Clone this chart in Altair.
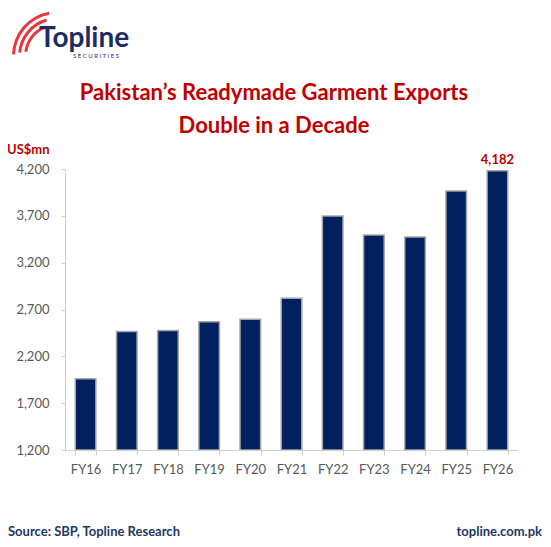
import altair as alt
import pandas as pd

categories = ["FY16", "FY17", "FY18", "FY19", "FY20", "FY21", "FY22", "FY23", "FY24", "FY25", "FY26"]
exports = [1961, 2464, 2475, 2568, 2596, 2821, 3698, 3496, 3475, 3964, 4182]
y_ticks = [1200, 1700, 2200, 2700, 3200, 3700, 4200]

title_lines = ["Pakistan\u2019s Readymade Garment Exports", "Double in a Decade"]
unit_label = "US$mn"
source_text = "Source: SBP,  Topline Research"
site_text = "topline.com.pk"
logo_text = "Topline"
logo_sub = "S E C U R I T I E S"

df = pd.DataFrame({"cat": categories, "value": exports})
one = pd.DataFrame({"k": [0]})

FONT = "Lato"
RED = "#c00000"
NAVY = "#002060"
LOGO_NAVY = "#1f2b63"
FOOT = "#1f3864"

W, H = 453, 281

x = alt.X("cat:N", sort=categories, title=None,
          scale=alt.Scale(paddingInner=0.5, paddingOuter=0.25),
          axis=alt.Axis(labelAngle=0, labelFont=FONT, labelFontSize=13, labelColor="#595959",
                        labelPadding=8, domainColor="#d0d0d0", tickColor="#d0d0d0",
                        tickBand="extent", tickSize=5, grid=False, labelOverlap=False,
                        zindex=2))
y = alt.Y("value:Q", title=None,
          scale=alt.Scale(domain=[1200, 4200], zero=False, nice=False),
          axis=alt.Axis(values=y_ticks, format=",.0f", labelFont=FONT, labelFontSize=13,
                        labelColor="#595959", labelPadding=12, domainColor="#d0d0d0",
                        tickColor="#d0d0d0", tickSize=4, grid=False, zindex=2))

bars = alt.Chart(df).mark_bar(color=NAVY, stroke="#a6a6a6", strokeWidth=1.5, clip=True).encode(
    x=x, y=y, y2=alt.Y2(datum=1200))

label = alt.Chart(df).transform_filter(alt.datum.cat == "FY26").mark_text(
    font=FONT, fontSize=13, fontWeight="bold", color=RED, dy=-4, baseline="bottom"
).encode(x=x, y=y, text=alt.Text("value:Q", format=",.0f"))


def txt(s, xv, yv, size, color, weight="bold", align="left"):
    return alt.Chart(one).mark_text(font=FONT, fontSize=size, fontWeight=weight, color=color,
                                    align=align, baseline="alphabetic").encode(
        x=alt.value(xv), y=alt.value(yv), text=alt.value(s))


t1 = txt(title_lines[0], 209, -69, 22, RED, align="center")
t2 = txt(title_lines[1], 209, -36, 22, RED, align="center")
unit = txt(unit_label, -58, -15, 13, RED)
src = txt(source_text, -57, 367, 13, FOOT)
site = txt(site_text, 477, 367, 13, FOOT, align="right")
logo = txt(logo_text, -26, -122, 28, LOGO_NAVY)
logo2 = txt(logo_sub, 8, -111, 6, LOGO_NAVY, weight="normal")

arcs = []
for r1, r2, a0, a1 in [(30, 33, 4.85, 5.9), (36, 39, 4.8, 6.0), (42, 45, 4.75, 6.1)]:
    arcs.append(alt.Chart(one).mark_arc(color="#e8202a", opacity=0.9).encode(
        x=alt.value(-8), y=alt.value(-113), radius=alt.value(r2), radius2=alt.value(r1),
        theta=alt.value(a0), theta2=alt.value(a1)))

chart = alt.layer(*arcs, bars, label, t1, t2, unit, logo, logo2, src, site).properties(
    width=W, height=H, background="white",
    padding={"left": 57, "top": 161, "right": 25, "bottom": 89},
    autosize=alt.AutoSizeParams(type="none"),
).configure_view(stroke=None)

chart.save("out.html", embed_options={"renderer": "svg", "actions": False})
